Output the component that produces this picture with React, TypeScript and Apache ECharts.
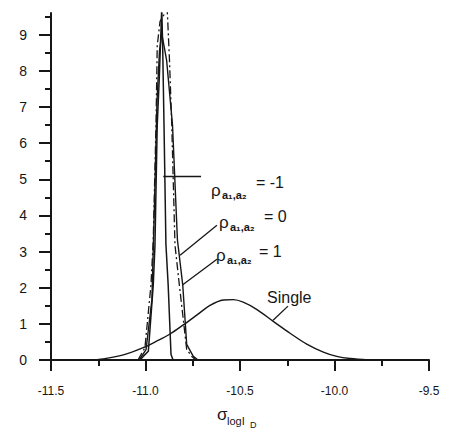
import React, { useEffect, useRef } from 'react';
import * as echarts from 'echarts';

// x-axis tick labels and y-axis tick labels
const xTickValues = [-11.5, -11.0, -10.5, -10.0, -9.5];
const yTickValues = [0, 1, 2, 3, 4, 5, 6, 7, 8, 9];
const yMinorTickValues = [0.5, 1.5, 2.5, 3.5, 4.5, 5.5, 6.5, 7.5, 8.5, 9.5];

// "Single" curve
const singleX = [-11.3, -11.223, -11.117, -11.012, -10.941, -10.870, -10.800, -10.729, -10.659, -10.588, -10.535, -10.483, -10.412, -10.324, -10.235, -10.147, -10.059, -9.988, -9.918, -9.82];
const singleY = [0.0, 0.03, 0.14, 0.34, 0.52, 0.72, 0.97, 1.24, 1.51, 1.66, 1.67, 1.60, 1.40, 1.07, 0.74, 0.44, 0.22, 0.10, 0.04, 0.0];

// rho = -1 (solid, narrowest, tallest)
const rhoM1X = [-11.029, -11.012, -10.985, -10.959, -10.950, -10.938, -10.927, -10.914, -10.909, -10.902, -10.892, -10.880, -10.865, -10.854];
const rhoM1Y = [0.0, 0.10, 0.24, 2.07, 3.17, 6.49, 7.81, 9.74, 8.64, 6.49, 3.21, 2.07, 0.15, 0.0];

// rho = 0 (dash-dot)
const rho0X = [-11.040, -11.003, -10.971, -10.959, -10.944, -10.938, -10.923, -10.885, -10.873, -10.861, -10.844, -10.821, -10.782, -10.755, -10.733];
const rho0Y = [0.0, 0.34, 2.08, 3.32, 6.62, 8.69, 9.37, 9.70, 8.28, 6.49, 3.18, 2.08, 0.29, 0.10, 0.0];

// rho = 1 (solid)
const rho1X = [-11.034, -10.997, -10.966, -10.952, -10.939, -10.926, -10.914, -10.902, -10.888, -10.857, -10.831, -10.803, -10.782, -10.747, -10.722];
const rho1Y = [0.0, 0.29, 1.67, 4.42, 7.17, 8.55, 9.02, 8.69, 8.28, 6.49, 3.32, 2.08, 0.43, 0.10, 0.0];

// leader lines: [x1, y1, x2, y2]
const leaderRhoM1 = [-10.906, 5.08, -10.706, 5.08];
const leaderRho0 = [-10.817, 2.9, -10.622, 3.73];
const leaderRho1 = [-10.803, 2.08, -10.622, 2.79];
const leaderSingle = [-10.325, 1.1, -10.246, 1.49];

const zip = (xs: number[], ys: number[]) => xs.map((x, i) => [x, ys[i]]);
const seg = (l: number[]) => [{ coord: [l[0], l[1]] }, { coord: [l[2], l[3]] }];

const INK = '#161616';
const FONT = 'Liberation Sans';

function rhoLabel(x: number, y: number, value: string, eqX: number, eqY: number) {
  return [
    { type: 'text', x, y, style: { text: 'ρ', fontSize: 17, fontFamily: FONT, fill: INK, verticalAlign: 'middle' } },
    { type: 'text', x: x + 11, y: y + 5, style: { text: 'a₁,a₂', fontSize: 11, fontWeight: 'bold', fontFamily: FONT, fill: INK, verticalAlign: 'middle' } },
    { type: 'text', x: eqX, y: eqY, style: { text: value, fontSize: 16, fontFamily: FONT, fill: INK, verticalAlign: 'middle' } },
  ];
}

export default function App() {
  const ref = useRef<HTMLDivElement>(null);
  useEffect(() => {
    if (!ref.current) return;
    const chart = echarts.init(ref.current, null, { renderer: 'svg' });
    const lineBase = { type: 'line', showSymbol: false, symbol: 'none', silent: true };
    chart.setOption({
      animation: false,
      backgroundColor: '#ffffff',
      grid: { left: 51, right: 20, top: 13, bottom: 74 },
      xAxis: {
        type: 'value',
        min: -11.5,
        max: -9.5,
        interval: 0.5,
        axisLine: { show: true, onZero: false, lineStyle: { color: INK, width: 2 } },
        axisTick: { show: true, length: 11, inside: false, lineStyle: { color: INK, width: 2 } },
        minorTick: { show: true, splitNumber: 2, length: 6, lineStyle: { color: INK, width: 2 } },
        axisLabel: {
          margin: 25,
          fontSize: 12,
          fontFamily: FONT,
          color: INK,
          formatter: (v: number) => (xTickValues.some((t) => Math.abs(t - v) < 1e-6) ? v.toFixed(1) : ''),
        },
        splitLine: { show: false },
        minorSplitLine: { show: false },
      },
      yAxis: [
        {
          type: 'value',
          min: 0,
          max: 9.6,
          axisLine: { show: true, lineStyle: { color: INK, width: 2 } },
          axisTick: { show: true, length: 12, customValues: yTickValues, lineStyle: { color: INK, width: 2 } },
          axisLabel: { margin: 24, fontSize: 14, fontFamily: FONT, color: INK, customValues: yTickValues },
          splitLine: { show: false },
        },
        {
          type: 'value',
          min: 0,
          max: 9.6,
          position: 'left',
          axisLine: { show: false },
          axisTick: { show: true, length: 6, customValues: yMinorTickValues, lineStyle: { color: INK, width: 2 } },
          axisLabel: { show: false },
          splitLine: { show: false },
        },
      ],
      series: [
        {
          ...lineBase,
          name: 'Single',
          smooth: 0.35,
          data: zip(singleX, singleY),
          lineStyle: { color: INK, width: 1.4 },
          markLine: {
            silent: true,
            symbol: ['none', 'none'],
            label: { show: false },
            lineStyle: { color: INK, width: 1.3, type: 'solid' },
            data: [seg(leaderRhoM1), seg(leaderRho0), seg(leaderRho1), seg(leaderSingle)],
          },
        },
        {
          ...lineBase,
          name: 'rho=-1',
          data: zip(rhoM1X, rhoM1Y),
          lineStyle: { color: INK, width: 1.5 },
        },
        {
          ...lineBase,
          name: 'rho=0',
          data: zip(rho0X, rho0Y),
          lineStyle: { color: INK, width: 1.3, type: [8, 3, 2, 3] },
        },
        {
          ...lineBase,
          name: 'rho=1',
          data: zip(rho1X, rho1Y),
          lineStyle: { color: INK, width: 1.4 },
        },
      ],
      graphic: [
        ...rhoLabel(211, 190, '= -1', 256, 182),
        ...rhoLabel(219, 222, '= 0', 264, 216),
        ...rhoLabel(216, 255, '= 1', 259, 251),
        { type: 'text', x: 267, y: 297, style: { text: 'Single', fontSize: 16, fontFamily: FONT, fill: INK, verticalAlign: 'middle' } },
        { type: 'text', x: 217, y: 414, style: { text: 'σ', fontSize: 17, fontFamily: FONT, fill: INK, verticalAlign: 'middle' } },
        { type: 'text', x: 227, y: 421, style: { text: 'logI', fontSize: 11, fontFamily: FONT, fill: INK, verticalAlign: 'middle' } },
        { type: 'text', x: 250, y: 425, style: { text: 'D', fontSize: 9, fontFamily: FONT, fill: INK, verticalAlign: 'middle' } },
      ],
    });
    return () => chart.dispose();
  }, []);
  return <div ref={ref} style={{ position: 'absolute', left: 0, top: 0, width: 449, height: 434 }} />;
}
